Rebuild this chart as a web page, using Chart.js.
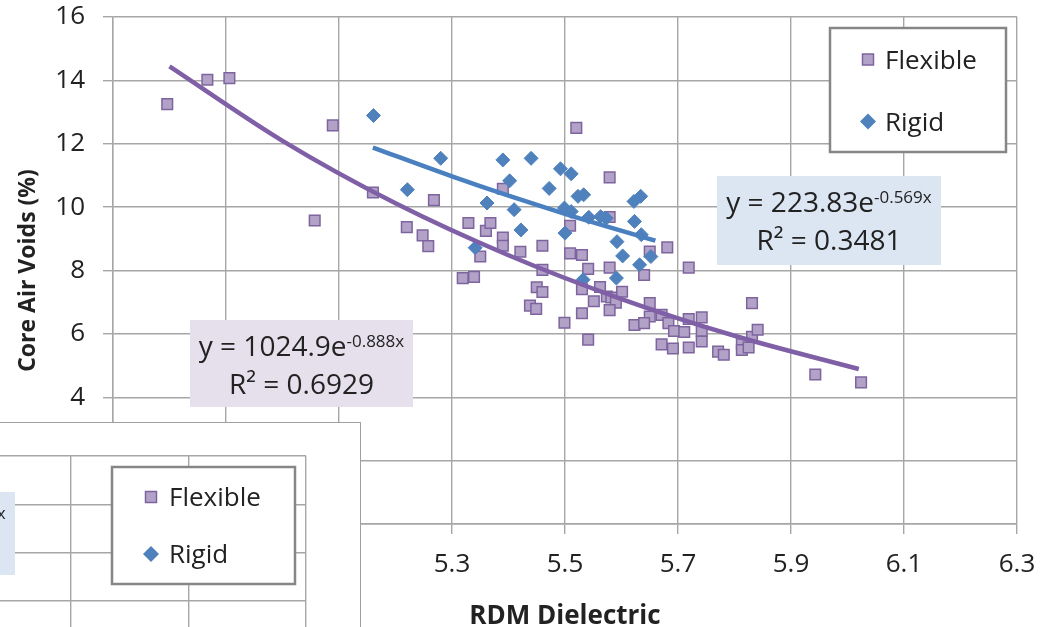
<!DOCTYPE html>
<html>
<head>
<meta charset="utf-8">
<script src="https://cdn.jsdelivr.net/npm/chart.js@4.4.1/dist/chart.umd.min.js"></script>
<style>
  html, body { margin: 0; padding: 0; background: #fff; }
  #wrap { position: relative; width: 1057px; height: 627px; overflow: hidden; }
  #main { position: absolute; left: 0; top: 0; }
  #insetBox { position: absolute; left: 0; top: 422px; width: 361px; height: 205px;
              box-sizing: border-box; background: #fff;
              border-top: 1px solid #a0a0a0; border-right: 1px solid #a0a0a0; }
  #inset { display: block; }
</style>
</head>
<body>
<div id="wrap">
  <canvas id="main" width="1057" height="627"></canvas>
  <div id="insetBox"><canvas id="inset" width="360" height="204"></canvas></div>
</div>
<script>
// series names
const seriesNames = ['Flexible', 'Rigid'];

// Flexible pavements: RDM dielectric vs core air voids
const flexX = [4.796, 4.867, 4.906, 5.089, 5.057, 5.160, 5.220, 5.268, 5.248, 5.258,
               5.329, 5.360, 5.368, 5.390, 5.390, 5.390, 5.350, 5.319, 5.339, 5.421,
               5.460, 5.460, 5.509, 5.509, 5.530, 5.541, 5.579, 5.450, 5.460, 5.438,
               5.449, 5.499, 5.530, 5.541, 5.520, 5.579, 5.579, 5.650, 5.681, 5.719,
               5.640, 5.530, 5.562, 5.551, 5.574, 5.582, 5.601, 5.590, 5.579, 5.650,
               5.650, 5.623, 5.640, 5.671, 5.683, 5.693, 5.711, 5.671, 5.691, 5.719,
               5.719, 5.742, 5.742, 5.742, 5.771, 5.781, 5.813, 5.813, 5.825, 5.831,
               5.841, 5.831, 5.943, 6.024];
const flexY = [13.25, 14.02, 14.07, 12.58, 9.58, 10.46, 9.37, 10.22, 9.11, 8.77,
               9.50, 9.25, 9.50, 10.58, 9.04, 8.78, 8.44, 7.76, 7.80, 8.59,
               8.78, 8.02, 9.41, 8.54, 8.49, 8.05, 8.09, 7.47, 7.32, 6.89,
               6.79, 6.35, 6.65, 5.82, 12.50, 10.94, 9.69, 8.60, 8.73, 8.09,
               7.86, 7.41, 7.48, 7.03, 7.18, 7.15, 7.33, 6.98, 6.75, 6.97,
               6.55, 6.28, 6.34, 6.60, 6.34, 6.09, 6.06, 5.67, 5.54, 5.57,
               6.47, 6.52, 6.09, 5.76, 5.44, 5.34, 5.68, 5.49, 5.57, 5.91,
               6.13, 6.97, 4.72, 4.47];

// Rigid pavements
const rigidX = [5.161, 5.280, 5.221, 5.390, 5.440, 5.402, 5.362, 5.410, 5.422, 5.341,
                5.492, 5.511, 5.472, 5.523, 5.533, 5.499, 5.511, 5.500, 5.542, 5.563,
                5.573, 5.592, 5.602, 5.622, 5.634, 5.623, 5.635, 5.632, 5.652, 5.591,
                5.532];
const rigidY = [12.89, 11.54, 10.55, 11.49, 11.54, 10.83, 10.13, 9.92, 9.28, 8.72,
                11.21, 11.05, 10.59, 10.34, 10.39, 9.97, 9.86, 9.18, 9.68, 9.70,
                9.65, 8.91, 8.46, 10.18, 10.34, 9.55, 9.13, 8.18, 8.44, 7.76,
                7.71];

// exponential trendlines, points
const flexTrendX = [4.80, 5.00, 5.20, 5.40, 5.60, 5.80, 6.02];
const flexTrendY = [14.44, 12.09, 10.12, 8.48, 7.10, 5.94, 4.89];
const rigidTrendX = [5.16, 5.30, 5.40, 5.50, 5.66];
const rigidTrendY = [11.88, 10.97, 10.36, 9.79, 8.94];

// trendline labels
const flexEq = ['y = 1024.9e', '-0.888x', 'R\u00B2 = 0.6929'];
const rigidEq = ['y = 223.83e', '-0.569x', 'R\u00B2 = 0.3481'];

// axes
const xMin = 4.7, xMax = 6.3, xStep = 0.2;
const yMin = 0, yMax = 16, yStep = 2;
const xTitle = 'RDM Dielectric';
const yTitle = 'Core Air Voids (%)';

// hidden axes of the pasted copy in the lower left
const insetXMin = -0.6, insetXMax = 2, insetYMin = -0.54, insetYMax = 3;

const FONT = "'Open Sans', 'DejaVu Sans', sans-serif";
const GRID = '#a6a6a6';
const TEXT = '#222';
const FLEX_FILL = '#b3a2c7', FLEX_LINE = '#7e649e';
const RIGID_FILL = '#4f81bd';

function pts(xs, ys) {
  return xs.map((x, i) => ({ x: x, y: ys[i] }));
}

function marker(ctx, style, x, y) {
  ctx.save();
  if (style === 'rect') {
    ctx.fillStyle = FLEX_FILL;
    ctx.strokeStyle = FLEX_LINE;
    ctx.lineWidth = 1.5;
    ctx.fillRect(x - 5.5, y - 5.5, 11, 11);
    ctx.strokeRect(x - 5.5, y - 5.5, 11, 11);
  } else {
    ctx.fillStyle = RIGID_FILL;
    ctx.beginPath();
    ctx.moveTo(x - 8, y);
    ctx.lineTo(x, y - 8);
    ctx.lineTo(x + 8, y);
    ctx.lineTo(x, y + 8);
    ctx.closePath();
    ctx.fill();
  }
  ctx.restore();
}

// legend box and equation boxes drawn inside the plot
const boxesPlugin = {
  id: 'boxes',
  afterDraw(chart, args, opts) {
    const ctx = chart.ctx;
    (opts.labels || []).forEach(lb => {
      ctx.save();
      ctx.fillStyle = lb.fill;
      ctx.fillRect(lb.x, lb.y, lb.w, lb.h);
      ctx.fillStyle = TEXT;
      ctx.textBaseline = 'alphabetic';
      ctx.font = '28px ' + FONT;
      const wMain = ctx.measureText(lb.text[0]).width;
      ctx.font = '17px ' + FONT;
      const wSup = ctx.measureText(lb.text[1]).width;
      const cx = lb.x + lb.w / 2;
      let sx = cx - (wMain + wSup) / 2;
      ctx.font = '28px ' + FONT;
      ctx.textAlign = 'left';
      ctx.fillText(lb.text[0], sx, lb.y + 36);
      ctx.font = '17px ' + FONT;
      ctx.fillText(lb.text[1], sx + wMain, lb.y + 27);
      ctx.font = '28px ' + FONT;
      ctx.textAlign = 'center';
      ctx.fillText(lb.text[2], cx, lb.y + 73.5);
      ctx.restore();
    });
    const lg = opts.legend;
    if (lg) {
      ctx.save();
      ctx.fillStyle = '#fff';
      ctx.fillRect(lg.x, lg.y, lg.w, lg.h);
      ctx.strokeStyle = '#868686';
      ctx.lineWidth = 2.5;
      ctx.strokeRect(lg.x, lg.y, lg.w, lg.h);
      const items = chart.data.datasets.filter(d => !d.trend);
      items.forEach((d, i) => {
        marker(ctx, d.pointStyle, lg.markerX, lg.rows[i]);
        ctx.fillStyle = TEXT;
        ctx.font = '26px ' + FONT;
        ctx.textAlign = 'left';
        ctx.textBaseline = 'alphabetic';
        ctx.fillText(d.label, lg.textX, lg.rows[i] + 9);
      });
      ctx.restore();
    }
  }
};

const flexStyle = { pointStyle: 'rect', pointRadius: 7.5, pointHoverRadius: 7.5,
                    backgroundColor: FLEX_FILL, borderColor: FLEX_LINE, borderWidth: 1.5 };
const rigidStyle = { pointStyle: 'rectRot', pointRadius: 7, pointHoverRadius: 7,
                     backgroundColor: RIGID_FILL, borderColor: RIGID_FILL, borderWidth: 1 };

new Chart(document.getElementById('main'), {
  type: 'scatter',
  data: {
    datasets: [
      { label: seriesNames[0] + ' trend', trend: true, type: 'line', data: pts(flexTrendX, flexTrendY),
        borderColor: '#7f60a6', borderWidth: 4.5, pointRadius: 0, fill: false,
        cubicInterpolationMode: 'monotone', order: 0 },
      { label: seriesNames[1] + ' trend', trend: true, type: 'line', data: pts(rigidTrendX, rigidTrendY),
        borderColor: '#4a80c0', borderWidth: 4.5, pointRadius: 0, fill: false,
        cubicInterpolationMode: 'monotone', order: 0 },
      Object.assign({ label: seriesNames[0], data: pts(flexX, flexY), order: 2 }, flexStyle),
      Object.assign({ label: seriesNames[1], data: pts(rigidX, rigidY), order: 1 }, rigidStyle)
    ]
  },
  options: {
    responsive: false,
    animation: false,
    layout: { padding: { left: 0, top: 17, right: 40, bottom: 0 } },
    scales: {
      x: {
        type: 'linear', min: xMin, max: xMax,
        ticks: { stepSize: xStep, padding: 15, color: TEXT, font: { family: FONT, size: 26 },
                 callback: v => v.toFixed(1) },
        grid: { color: GRID, lineWidth: 1.4, tickLength: 10 },
        border: { color: GRID, width: 1.4 },
        title: { display: true, text: xTitle, color: TEXT,
                 font: { family: FONT, size: 26, weight: 'bold' }, padding: { bottom: -5 } },
        afterFit: s => { s.height = 103; }
      },
      y: {
        min: yMin, max: yMax,
        ticks: { stepSize: yStep, padding: 18, color: TEXT, font: { family: FONT, size: 26 } },
        grid: { color: GRID, lineWidth: 1.4, tickLength: 10 },
        border: { color: GRID, width: 1.4 },
        title: { display: true, text: yTitle, color: TEXT,
                 font: { family: FONT, size: 23, weight: 'bold' }, padding: { top: 15 } },
        afterFit: s => { s.width = 113; s.paddingTop = 0; s.paddingBottom = 0; }
      }
    },
    plugins: {
      legend: { display: false },
      tooltip: { enabled: false },
      boxes: {
        labels: [
          { x: 190, y: 320, w: 223, h: 87, fill: '#e5e0ec', text: flexEq },
          { x: 717, y: 176, w: 224, h: 89, fill: '#dce6f2', text: rigidEq }
        ],
        legend: { x: 830, y: 28, w: 176, h: 124, markerX: 868, textX: 885, rows: [59.5, 121.5] }
      }
    }
  },
  plugins: [boxesPlugin]
});

// the second copy of the chart pasted over the lower left corner
new Chart(document.getElementById('inset'), {
  type: 'scatter',
  data: {
    datasets: [
      Object.assign({ label: seriesNames[0], data: [] }, flexStyle),
      Object.assign({ label: seriesNames[1], data: [] }, rigidStyle)
    ]
  },
  options: {
    responsive: false,
    animation: false,
    layout: { padding: { left: 0, top: 33, right: 54, bottom: 0 } },
    scales: {
      x: {
        type: 'linear', min: insetXMin, max: insetXMax,
        ticks: { display: false, stepSize: 1, includeBounds: false },
        grid: { color: GRID, lineWidth: 1.4, drawTicks: false },
        border: { display: false },
        afterFit: s => { s.height = 0; }
      },
      y: {
        min: insetYMin, max: insetYMax,
        ticks: { display: false, stepSize: 1, includeBounds: false },
        grid: { color: GRID, lineWidth: 1.4, drawTicks: false },
        border: { display: false },
        afterFit: s => { s.width = 0; }
      }
    },
    plugins: {
      legend: { display: false },
      tooltip: { enabled: false },
      boxes: {
        labels: [
          { x: -209, y: 69, w: 224, h: 83, fill: '#dce6f2', text: rigidEq }
        ],
        legend: { x: 112, y: 44, w: 183, h: 117, markerX: 151, textX: 169, rows: [74, 131] }
      }
    }
  },
  plugins: [boxesPlugin]
});
</script>
</body>
</html>
